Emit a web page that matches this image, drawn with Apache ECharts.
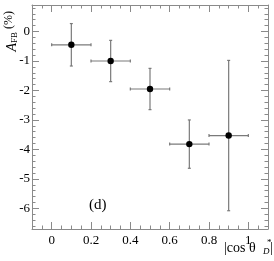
<!DOCTYPE html>
<html><head><meta charset="utf-8">
<script src="https://cdn.jsdelivr.net/npm/echarts@6/dist/echarts.min.js"></script>
<style>html,body{margin:0;padding:0;background:#fff}#c{width:274px;height:261px}</style>
</head><body><div id="c"></div>
<script>
// ---- data ----
const xCenters   = [0.1, 0.3, 0.5, 0.7, 0.9];
const xHalfWidth = [0.1, 0.1, 0.1, 0.1, 0.1];
const yValues    = [-0.45, -1.0, -1.95, -3.82, -3.53];
const yErrors    = [0.72, 0.70, 0.70, 0.82, 2.55];
const xTickLabels = [0, 0.2, 0.4, 0.6, 0.8, 1];
const yTickLabels = [-6, -5, -4, -3, -2, -1, 0];
const xMinorTicks = [-0.05,0.05,0.1,0.15,0.25,0.3,0.35,0.45,0.5,0.55,0.65,0.7,0.75,0.85,0.9,0.95,1.05];
const yMinorTicks = [-6.6,-6.4,-6.2,-5.8,-5.6,-5.4,-5.2,-4.8,-4.6,-4.4,-4.2,-3.8,-3.6,-3.4,-3.2,
                     -2.8,-2.6,-2.4,-2.2,-1.8,-1.6,-1.4,-1.2,-0.8,-0.6,-0.4,-0.2,0.2,0.4,0.6,0.8];
const X_MIN = -0.1, X_MAX = 1.1, Y_MIN = -6.7, Y_MAX = 0.9;

const FONT = 'Liberation Serif';
const AX = '#8a8a8a';
const points = xCenters.map((x, i) => [x, yValues[i], xHalfWidth[i], yErrors[i]]);

function xAxisDef(pos, ticks, len, labels, showLine) {
  return {
    type: 'value', position: pos, min: X_MIN, max: X_MAX,
    axisLine: { show: showLine, onZero: false, lineStyle: { color: AX, width: 1 } },
    splitLine: { show: false },
    axisTick: { show: true, inside: true, length: len, customValues: ticks, lineStyle: { color: AX, width: 1 } },
    axisLabel: labels ? { show: true, customValues: ticks, margin: 5, color: '#000', fontFamily: FONT, fontSize: 13 } : { show: false }
  };
}
function yAxisDef(pos, ticks, len, labels, showLine) {
  return {
    type: 'value', position: pos, min: Y_MIN, max: Y_MAX,
    axisLine: { show: showLine, onZero: false, lineStyle: { color: AX, width: 1 } },
    splitLine: { show: false },
    axisTick: { show: true, inside: true, length: len, customValues: ticks, lineStyle: { color: AX, width: 1 } },
    axisLabel: labels ? { show: true, customValues: ticks, margin: 2, color: '#000', fontFamily: FONT, fontSize: 13 } : { show: false }
  };
}

const yMain = yAxisDef('left', yTickLabels, 7, true, true);
Object.assign(yMain, {
  name: '{a|A}{s|FB} {p|(%)}',
  nameLocation: 'end',
  nameRotate: 90,
  nameGap: -48,
  nameTextStyle: {
    align: 'left', verticalAlign: 'bottom', padding: [0, 0, 13, 0],
    fontFamily: FONT, color: '#000',
    rich: {
      a: { fontFamily: FONT, fontStyle: 'italic', fontSize: 14, lineHeight: 16, verticalAlign: 'bottom', color: '#000' },
      s: { fontFamily: FONT, fontSize: 9, lineHeight: 16, verticalAlign: 'bottom', color: '#000' },
      p: { fontFamily: FONT, fontSize: 12, lineHeight: 16, verticalAlign: 'top', color: '#000' }
    }
  }
});

const chart = echarts.init(document.getElementById('c'), null, { renderer: 'canvas' });
chart.setOption({
  animation: false,
  grid: { left: 32, right: 6, top: 5, bottom: 32, containLabel: false },
  xAxis: [
    xAxisDef('bottom', xTickLabels, 7, true, true),
    xAxisDef('bottom', xMinorTicks, 3.5, false, false),
    xAxisDef('top', xTickLabels, 7, false, true),
    xAxisDef('top', xMinorTicks, 3.5, false, false)
  ],
  yAxis: [
    yMain,
    yAxisDef('left', yMinorTicks, 3.5, false, false),
    yAxisDef('right', yTickLabels, 7, false, true),
    yAxisDef('right', yMinorTicks, 3.5, false, false)
  ],
  series: [{
    type: 'custom', xAxisIndex: 0, yAxisIndex: 0, data: points,
    renderItem: function (params, api) {
      const x = api.value(0), y = api.value(1), ex = api.value(2), ey = api.value(3);
      const c = api.coord([x, y]);
      const l = api.coord([x - ex, y]), r = api.coord([x + ex, y]);
      const t = api.coord([x, y + ey]), b = api.coord([x, y - ey]);
      const st = { stroke: '#7a7a7a', lineWidth: 1.2 };
      const cap = 1.5;
      return {
        type: 'group', children: [
          { type: 'line', shape: { x1: l[0], y1: l[1], x2: r[0], y2: r[1] }, style: st },
          { type: 'line', shape: { x1: t[0], y1: t[1], x2: b[0], y2: b[1] }, style: st },
          { type: 'line', shape: { x1: l[0], y1: l[1] - cap, x2: l[0], y2: l[1] + cap }, style: st },
          { type: 'line', shape: { x1: r[0], y1: r[1] - cap, x2: r[0], y2: r[1] + cap }, style: st },
          { type: 'line', shape: { x1: t[0] - cap, y1: t[1], x2: t[0] + cap, y2: t[1] }, style: st },
          { type: 'line', shape: { x1: b[0] - cap, y1: b[1], x2: b[0] + cap, y2: b[1] }, style: st },
          { type: 'circle', shape: { cx: c[0], cy: c[1], r: 3.2 }, style: { fill: '#000' } }
        ]
      };
    }
  }],
  graphic: [
    { type: 'text', left: 89, top: 198, style: { text: '(d)', font: '15px "Liberation Serif"', fill: '#000' } },
    // x axis title
    { type: 'text', x: 224, y: 241, style: { text: '|cos θ', font: '14px "Liberation Serif"', fill: '#000' } },
    { type: 'text', x: 263, y: 247, style: { text: 'D', font: 'italic 9px "Liberation Serif"', fill: '#000' } },
    { type: 'text', x: 267, y: 238, style: { text: '*', font: '9px "Liberation Serif"', fill: '#000' } },
    { type: 'text', x: 270, y: 241, style: { text: '|', font: '14px "Liberation Serif"', fill: '#000' } }
  ]
});
</script></body></html>
